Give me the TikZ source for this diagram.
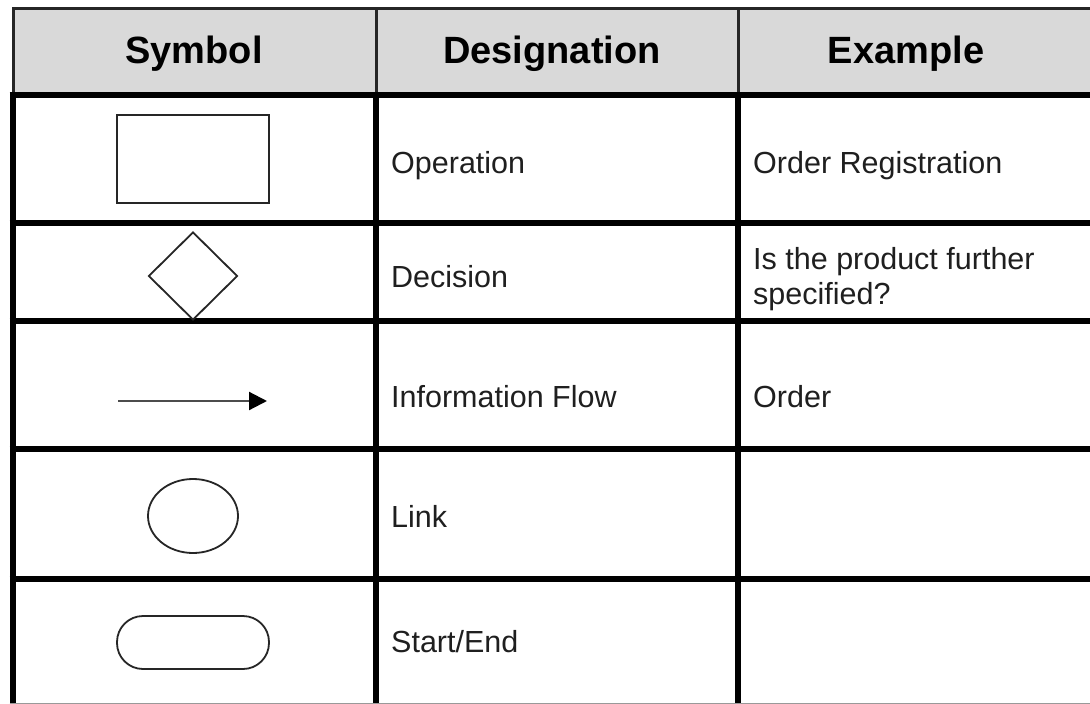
\documentclass[tikz,border=0pt]{standalone}
\usepackage{fontspec}
\setmainfont{Liberation Sans}
\usetikzlibrary{shapes.geometric,arrows.meta}

\begin{document}
\begin{tikzpicture}[x=1pt,y=-1pt,
  head/.style={font=\fontsize{38}{45}\selectfont\bfseries, text=black, inner sep=0pt, anchor=base},
  cell/.style={font=\fontsize{30.5}{35}\selectfont, text=black!88, inner sep=0pt, anchor=base west, align=left},
  rulethick/.style={line width=6pt, black},
  rulethin/.style={line width=3pt, black!85},
  sym/.style={draw=black!85, line width=1.8pt, inner sep=0pt}
]
\useasboundingbox (0,0) rectangle (1090,704);
\fill[white] (0,0) rectangle (1090,704);

% header band
\fill[black!15] (14,8) rectangle (1090,95);
\draw[rulethin] (12,8.5) -- (1090,8.5);
\draw[rulethin] (13.5,8) -- (13.5,95);
\draw[rulethin] (376,8) -- (376,95);
\draw[rulethin] (738,8) -- (738,95);

% body grid
\draw[rulethick] (9.5,95) -- (1090,95);
\foreach \y in {223,321,449,579}
  \draw[rulethick] (9.5,\y) -- (1090,\y);
\draw[rulethick] (12.5,92) -- (12.5,704);
\draw[rulethick] (376,92) -- (376,704);
\draw[rulethick] (738,92) -- (738,704);
\draw[black!40, line width=1pt] (9.5,703) -- (1090,703);

% header texts
\node[head] (hsym) at (194,63) {Symbol};
\node[head] (hdes) at (552,63) {Designation};
\node[head] (hex)  at (906,63) {Example};

% symbols
\node[sym, rectangle, minimum width=152pt, minimum height=88pt] (op) at (193,159) {};
\node[sym, diamond, aspect=1, minimum width=89pt, minimum height=88pt] (dec) at (193,276) {};
\coordinate (fl0) at (118,401);
\coordinate (fl1) at (267,401);
\draw[black!70, line width=2.2pt, -{Triangle[length=18pt,width=18pt,black]}] (fl0) -- (fl1);
\node[sym, ellipse, minimum width=90pt, minimum height=74pt] (lnk) at (193,516) {};
\node[sym, rectangle, rounded corners=26pt, minimum width=152pt, minimum height=53pt] (se) at (193,642.5) {};

% designations
\node[cell] (dop)  at (391,173) {Operation};
\node[cell] (ddec) at (391,287) {Decision};
\node[cell] (dfl)  at (391,407) {Information Flow};
\node[cell] (dlnk) at (391,527) {Link};
\node[cell] (dse)  at (391,652) {Start/End};

% examples
\node[cell] (eop)  at (753,173) {Order Registration};
\node[cell] (edec1) at (753,269) {Is the product further};
\node[cell] (edec2) at (753,304) {specified?};
\node[cell] (efl)  at (753,407) {Order};
\end{tikzpicture}
\end{document}
